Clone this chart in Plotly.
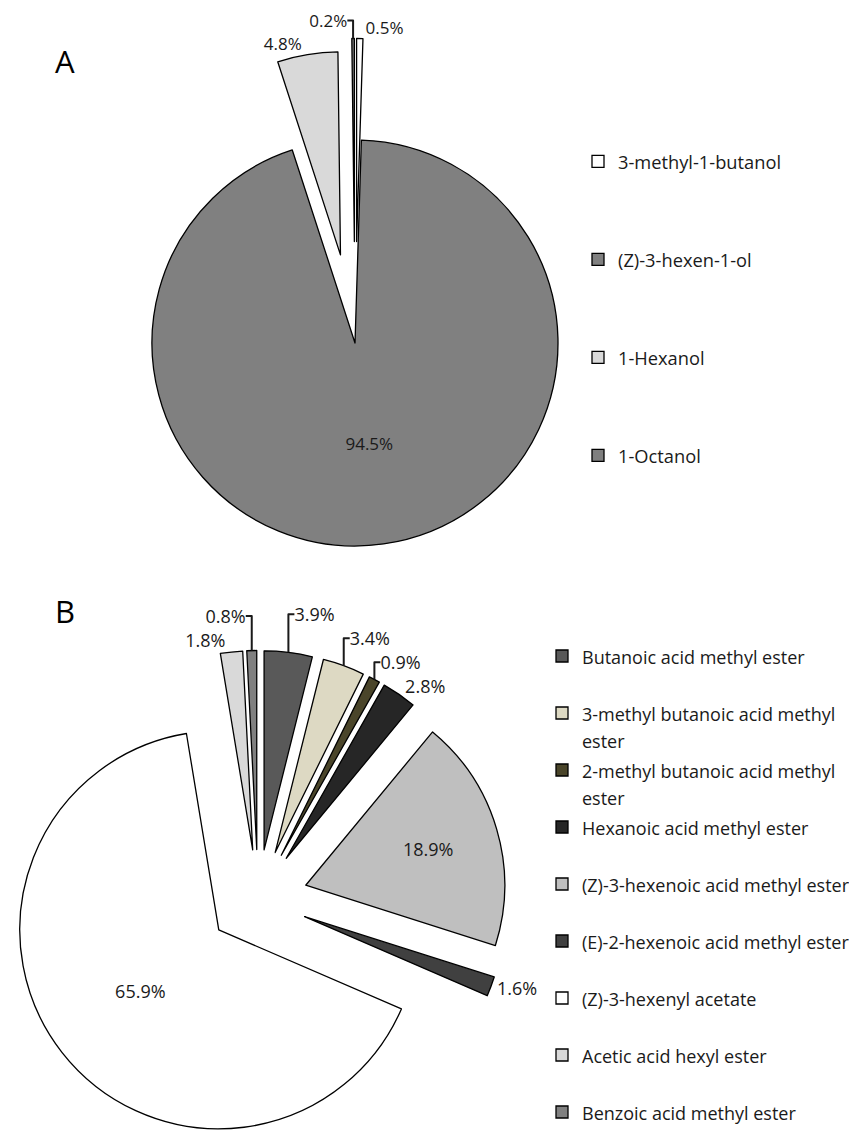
import plotly.graph_objects as go

W, H = 857, 1140
FONT = "Open Sans"
OFF = 8  # default page margin of the html body (px)

# ---- Panel A data ----
a_labels = ["3-methyl-1-butanol", "(Z)-3-hexen-1-ol", "1-Hexanol", "1-Octanol"]
a_values = [0.5, 94.5, 4.8, 0.2]
a_colors = ["#FFFFFF", "#808080", "#D9D9D9", "#7F7F7F"]
a_pull = [0.5, 0.0, 0.44, 0.5]
a_textpos = ["outside", "inside", "outside", "outside"]

# ---- Panel B data ----
b_labels = [
    "Butanoic acid methyl ester",
    "3-methyl butanoic acid methyl ester",
    "2-methyl butanoic acid methyl ester",
    "Hexanoic acid methyl ester",
    "(Z)-3-hexenoic acid methyl ester",
    "(E)-2-hexenoic acid methyl ester",
    "(Z)-3-hexenyl acetate",
    "Acetic acid hexyl ester",
    "Benzoic acid methyl ester",
]
b_values = [3.9, 3.4, 0.9, 2.8, 18.9, 1.6, 65.9, 1.8, 0.8]
b_colors = ["#595959", "#DDD9C3", "#4A452A", "#262626", "#BFBFBF",
            "#404040", "#FFFFFF", "#D9D9D9", "#808080"]
b_pull = [0.25] * 9
b_textpos = ["outside", "outside", "outside", "outside", "inside",
             "outside", "inside", "outside", "outside"]


def fx(px):
    return min(max((px - OFF) / W, 0.0), 1.0)


def fy(py):
    return min(max(1 - (py - OFF) / H, 0.0), 1.0)


def dom(cx, cy, half):
    return dict(x=[fx(cx - half), fx(cx + half)],
                y=[fy(cy + half), fy(cy - half)])


def legend_a(name):
    return name + "<br>\u00a0<br>\u00a0<br>\u00a0"


def legend_b(name, last):
    sp = '<span style="font-size:18px">%s</span>'
    if name.startswith(("3-methyl", "2-methyl")):
        head = name[: -len(" ester")]
        return sp % head + "<br>" + sp % "ester"
    if last:
        return sp % name
    return sp % name + "<br>\u00a0"


fig = go.Figure()

RA = 203
fig.add_trace(go.Pie(
    labels=[legend_a(n) for n in a_labels], values=a_values,
    marker=dict(colors=a_colors, line=dict(color="#000000", width=1.3)),
    pull=a_pull, sort=False, direction="clockwise", rotation=0,
    texttemplate="%{value:.1f}%", textposition=a_textpos,
    insidetextorientation="horizontal", automargin=False,
    textfont=dict(family=FONT, size=17, color="#1a1a1a"),
    domain=dom(355, 343, RA * 1.5), legend="legend", hoverinfo="skip",
))

RB = 199
fig.add_trace(go.Pie(
    labels=[legend_b(n, i == len(b_labels) - 1) for i, n in enumerate(b_labels)],
    values=b_values,
    marker=dict(colors=b_colors, line=dict(color="#000000", width=1.3)),
    pull=b_pull, sort=False, direction="clockwise", rotation=0,
    texttemplate="%{value:.1f}%", textposition=b_textpos,
    insidetextorientation="horizontal", automargin=False,
    textfont=dict(family=FONT, size=18, color="#1a1a1a"),
    domain=dom(258, H + OFF - RB * 1.25, RB * 1.25), legend="legend2",
    hoverinfo="skip",
))

fig.update_layout(
    width=W, height=H,
    margin=dict(l=0, r=0, t=0, b=0, autoexpand=False),
    paper_bgcolor="white", plot_bgcolor="white",
    font=dict(family=FONT, color="#1a1a1a"),
    legend=dict(x=fx(578), y=fy(143), xanchor="left", yanchor="top",
                valign="top", font=dict(family=FONT, size=18.27, color="#1a1a1a"),
                bgcolor="rgba(0,0,0,0)"),
    legend2=dict(x=fx(542), y=fy(636), xanchor="left", yanchor="top",
                 valign="top", font=dict(family=FONT, size=20.77, color="#1a1a1a"),
                 bgcolor="rgba(0,0,0,0)"),
    annotations=[
        dict(text="A", x=fx(65), y=fy(61), xref="paper", yref="paper",
             xanchor="center", yanchor="middle", showarrow=False,
             font=dict(family=FONT, size=31, color="#000000")),
        dict(text="B", x=fx(65), y=fy(611), xref="paper", yref="paper",
             xanchor="center", yanchor="middle", showarrow=False,
             font=dict(family=FONT, size=31, color="#000000")),
    ],
)

fig.write_html("out.html")
